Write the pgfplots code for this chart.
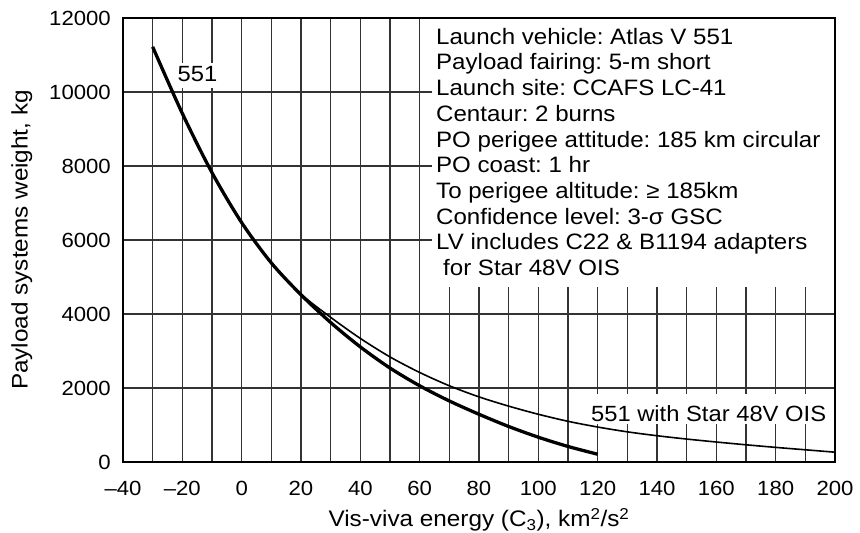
\documentclass[border=0pt]{standalone}
\usepackage{fontspec}
\setmainfont{Liberation Sans}[FakeStretch=1.08]
\usepackage{pgfplots}
\pgfplotsset{compat=1.18}
\frenchspacing
\begin{document}
\begin{tikzpicture}
\begin{axis}[
  scale only axis,
  width=712pt, height=444pt,
  xmin=-40, xmax=200, ymin=0, ymax=12000,
  xtick={-40,-20,...,200},
  xticklabels={–40,–20,0,20,40,60,80,100,120,140,160,180,200},
  minor xtick={-30,-10,...,190},
  ytick={0,2000,...,12000},
  yticklabels={0,2000,4000,6000,8000,10000,12000},
  scaled y ticks=false, scaled x ticks=false,
  major tick length=0pt, minor tick length=0pt,
  grid=both,
  major grid style={black!80, line width=1.1pt},
  minor grid style={black!80, line width=1.1pt},
  axis line style={black, line width=2pt},
  /pgf/number format/assume math mode=true,
  xticklabel style={font=\fontsize{20.5}{24}\selectfont, inner sep=0pt, anchor=north, yshift=-19pt},
  yticklabel style={font=\fontsize{20.5}{24}\selectfont, inner sep=0pt, anchor=east, xshift=-12pt},
  every axis x label/.style={at={(axis description cs:0.5,-0.1457)}, anchor=base, font=\fontsize{22.5}{26}\selectfont, inner sep=0pt},
  every axis y label/.style={at={(axis description cs:-0.134,0.5)}, rotate=90, anchor=base, font=\fontsize{22.5}{26}\selectfont, inner sep=0pt},
  xlabel={Vis-viva energy (C\textsubscript{3}), km\textsuperscript{2}/s\textsuperscript{2}},
  ylabel={Payload systems weight, kg},
  clip=false,
]
\coordinate (SW) at (rel axis cs:0,0);
\coordinate (NE) at (rel axis cs:1,1);
\fill[white] (axis cs:64.1,4730) rectangle (axis cs:199.6,11970);
\node[font=\fontsize{22}{26}\selectfont, fill=white, inner xsep=2pt, inner ysep=0pt, text height=19pt, text depth=6pt, anchor=base] at (axis cs:-14.9,10278) {551};
\node[font=\fontsize{22}{26}\selectfont, fill=white, inner xsep=3pt, inner ysep=0pt, text height=27pt, text depth=3pt, anchor=base] at (axis cs:157.4,1108) {551 with Star 48V OIS};
% 551 with Star 48V OIS (thin)
\addplot[black, line width=1.6pt, smooth] coordinates {
(-30,11220) (-20,9420) (-10,7820) (0,6470) (10,5390) (20,4540) (30,3910)
(40,3340) (50,2840) (60,2420) (70,2060) (80,1760) (90,1510) (100,1290)
(110,1100) (120,945) (130,815) (140,710) (150,620) (160,540) (170,465)
(180,395) (190,330) (200,265)};
% 551 (thick)
\addplot[black, line width=3.3pt, smooth] coordinates {
(-30,11220) (-20,9420) (-10,7820) (0,6470) (10,5380) (20,4520) (30,3770)
(40,3110) (50,2540) (60,2060) (70,1650) (80,1290) (90,960) (100,670)
(110,420) (120,210)};
\begin{scope}[every node/.style={font=\fontsize{22.3}{26}\selectfont, inner sep=0pt, anchor=base west}]
\node at (axis cs:65.5,11289) {Launch vehicle: Atlas V 551};
\node at (axis cs:65.5,10595) {Payload fairing: 5-m short};
\node at (axis cs:65.5,9900) {Launch site: CCAFS LC-41};
\node at (axis cs:65.5,9205) {Centaur: 2 burns};
\node at (axis cs:65.5,8511) {PO perigee attitude: 185 km circular};
\node at (axis cs:65.5,7816) {PO coast: 1 hr};
\node at (axis cs:65.5,7122) {To perigee altitude: ≥ 185km};
\node at (axis cs:65.5,6427) {Confidence level: 3-σ GSC};
\node at (axis cs:65.5,5732) {LV includes C22 \& B1194 adapters};
\node at (axis cs:65.5,5038) {\hspace*{7pt}for Star 48V OIS};
\end{scope}
\end{axis}
\pgfresetboundingbox
\path ([shift={(-123pt,-71pt)}]SW) rectangle ([shift={(25pt,18pt)}]NE);
\end{tikzpicture}
\end{document}
